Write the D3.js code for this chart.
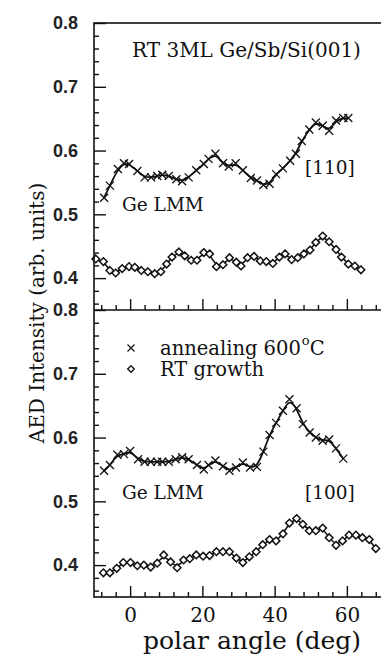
<!DOCTYPE html>
<html>
<head>
<meta charset="utf-8">
<script src="https://cdn.jsdelivr.net/npm/d3@7"></script>
<style>
  body { margin: 0; background: #fff; }
  svg { display: block; }
</style>
</head>
<body>
<div id="chart"></div>
<script>
// [110] panel, annealing 600C (crosses)
var ang110x = [-7.2, -5.6, -3.4, -1.7, -0.3, 2, 4, 5.8, 7.5, 8.9, 10.7, 12.8, 14.4, 16.2, 18.3, 20.4, 21.7, 23.6, 25.7, 27.3, 29.2, 31.2, 33.4, 35.1, 36.9, 38.6, 40.4, 42.3, 44.3, 45.9, 47.5, 49.6, 51.4, 53.3, 55.1, 57, 59, 60.4];
var int110x = [0.526, 0.545, 0.571, 0.580, 0.579, 0.568, 0.558, 0.558, 0.560, 0.562, 0.560, 0.555, 0.552, 0.558, 0.569, 0.579, 0.587, 0.595, 0.580, 0.575, 0.580, 0.569, 0.557, 0.553, 0.546, 0.548, 0.563, 0.572, 0.584, 0.595, 0.615, 0.633, 0.644, 0.639, 0.631, 0.647, 0.651, 0.651];
// [110] panel, RT growth (diamonds)
var ang110d = [-9.5, -7.4, -5.6, -4, -2.2, -0.3, 1.3, 3.1, 4.9, 6.8, 8.5, 10.1, 11.6, 13.5, 15.1, 16.9, 18.5, 20.4, 22, 23.9, 25.7, 27.5, 29.4, 30.7, 32.5, 34.3, 36, 37.7, 39.5, 41.3, 42.9, 44.7, 46.4, 48.1, 49.8, 51.4, 53.3, 55.1, 57, 58.5, 60.4, 62.2, 63.9];
var int110d = [0.430, 0.426, 0.412, 0.408, 0.415, 0.418, 0.417, 0.412, 0.410, 0.407, 0.410, 0.422, 0.433, 0.441, 0.435, 0.428, 0.428, 0.440, 0.438, 0.418, 0.421, 0.432, 0.425, 0.419, 0.432, 0.434, 0.427, 0.426, 0.423, 0.433, 0.438, 0.429, 0.432, 0.438, 0.444, 0.456, 0.466, 0.457, 0.445, 0.433, 0.422, 0.419, 0.413];
// [100] panel, annealing 600C (crosses)
var ang100x = [-7.2, -5.6, -3.5, -1.7, 0, 2.2, 4, 5.7, 7.5, 8.9, 10.7, 12.6, 14.4, 16.2, 18.5, 20.4, 21.7, 23.6, 25.7, 27.5, 29.3, 31.2, 33.2, 35.1, 36.9, 38.6, 40.4, 42.3, 44.1, 46.1, 47.8, 49.7, 51.4, 53.3, 55.1, 57, 59];
var int100x = [0.548, 0.557, 0.573, 0.574, 0.579, 0.566, 0.562, 0.562, 0.562, 0.562, 0.562, 0.566, 0.569, 0.566, 0.557, 0.550, 0.557, 0.564, 0.555, 0.548, 0.553, 0.561, 0.553, 0.554, 0.578, 0.604, 0.623, 0.642, 0.660, 0.646, 0.621, 0.608, 0.600, 0.595, 0.597, 0.583, 0.567];
// [100] panel, RT growth (diamonds)
var ang100d = [-7.4, -5.6, -3.7, -1.9, 0.1, 2, 3.8, 5.7, 7.5, 9.3, 11.2, 13, 14.8, 16.5, 18.3, 20.2, 22, 23.9, 25.7, 27.5, 29.4, 31.2, 33, 34.9, 36.7, 38.6, 40.4, 42.3, 44.1, 46.1, 47.8, 49.6, 51.4, 53.3, 55.1, 57, 58.8, 60.6, 62.5, 64.3, 66.2, 68];
var int100d = [0.388, 0.388, 0.395, 0.404, 0.404, 0.399, 0.400, 0.397, 0.403, 0.416, 0.405, 0.396, 0.408, 0.410, 0.416, 0.414, 0.415, 0.421, 0.421, 0.421, 0.411, 0.404, 0.413, 0.421, 0.432, 0.440, 0.438, 0.449, 0.466, 0.473, 0.464, 0.454, 0.454, 0.458, 0.443, 0.431, 0.438, 0.447, 0.447, 0.443, 0.440, 0.426];

var xMajor = [0, 20, 40, 60];
var xMinor = [-8, -4, 4, 8, 12, 16, 24, 28, 32, 36, 44, 48, 52, 56, 64, 68];
var yMajor = [0.4, 0.5, 0.6, 0.7, 0.8];
var yMinor = [0.36, 0.38, 0.42, 0.44, 0.46, 0.48, 0.52, 0.54, 0.56, 0.58, 0.62, 0.64, 0.66, 0.68, 0.72, 0.74, 0.76, 0.78];

var W = 381, H = 659;
var serif = "'DejaVu Serif', serif";
var sans = "'Liberation Sans', Arial, sans-serif";

var svg = d3.select("#chart").append("svg").attr("width", W).attr("height", H);

var x = d3.scaleLinear().domain([-10, 70]).range([94, 383]);
var yTop = d3.scaleLinear().domain([0.35, 0.8]).range([310, 23]);
var yBot = d3.scaleLinear().domain([0.35, 0.8]).range([597, 310]);

function zip(a, b) { return a.map(function (v, i) { return [v, b[i]]; }); }

function panel(y, xs, ys, ds, dv, showX) {
  var g = svg.append("g");
  // y axis ticks
  g.append("g").attr("transform", "translate(" + x(-10) + ",0)")
    .call(d3.axisLeft(y).tickValues(yMinor).tickSize(-5).tickSizeOuter(0).tickFormat(""));
  g.append("g").attr("transform", "translate(" + x(-10) + ",0)")
    .call(d3.axisLeft(y).tickValues(yMajor).tickSize(-12).tickSizeOuter(0).tickPadding(16)
      .tickFormat(d3.format(".1f")))
    .call(function (a) {
      a.selectAll("text").style("font-family", sans).style("font-size", "18px")
        .style("font-weight", "bold").attr("fill", "#222");
    });
  // x axis ticks (pointing up)
  var yb = y(0.35);
  g.append("g").attr("transform", "translate(0," + yb + ")")
    .call(d3.axisBottom(x).tickValues(xMinor).tickSize(-5).tickSizeOuter(0).tickFormat(""));
  g.append("g").attr("transform", "translate(0," + yb + ")")
    .call(d3.axisBottom(x).tickValues(xMajor).tickSize(-11).tickSizeOuter(0).tickPadding(11)
      .tickFormat(showX ? d3.format("d") : ""))
    .call(function (a) {
      a.selectAll("text").style("font-family", serif).style("font-size", "20px").attr("fill", "#111");
    });
  g.selectAll(".domain").remove();
  g.selectAll("line").attr("stroke", "#111").attr("stroke-width", 1.4);

  var line = d3.line().x(function (d) { return x(d[0]); }).y(function (d) { return y(d[1]); })
    .curve(d3.curveBasis);
  var cross = zip(xs, ys), diam = zip(ds, dv);
  g.append("path").attr("d", line(cross)).attr("fill", "none").attr("stroke", "#111").attr("stroke-width", 1.8);
  g.append("path").attr("d", line(diam)).attr("fill", "none").attr("stroke", "#111").attr("stroke-width", 1.6);

  g.selectAll(".cx").data(cross).join("path").attr("class", "cx")
    .attr("transform", function (d) { return "translate(" + x(d[0]) + "," + y(d[1]) + ")"; })
    .attr("d", "M-4,-4L4,4M-4,4L4,-4").attr("stroke", "#111").attr("stroke-width", 1.3).attr("fill", "none");
  g.selectAll(".dm").data(diam).join("path").attr("class", "dm")
    .attr("transform", function (d) { return "translate(" + x(d[0]) + "," + y(d[1]) + ")"; })
    .attr("d", "M0,-3.8L3.8,0L0,3.8L-3.8,0Z").attr("stroke", "#111").attr("stroke-width", 1.5).attr("fill", "#fff");
}

panel(yTop, ang110x, int110x, ang110d, int110d, false);
panel(yBot, ang100x, int100x, ang100d, int100d, true);

// frame
var fr = svg.append("g").attr("stroke", "#111").attr("stroke-width", 1.6).attr("fill", "none");
fr.append("rect").attr("x", x(-10)).attr("y", yTop(0.8)).attr("width", x(70) - x(-10)).attr("height", yBot(0.35) - yTop(0.8));
fr.append("line").attr("x1", x(-10)).attr("x2", x(70)).attr("y1", yTop(0.35)).attr("y2", yTop(0.35));

function txt(xp, yp, s, size, anchor) {
  return svg.append("text").attr("x", xp).attr("y", yp).text(s)
    .style("font-family", serif).style("font-size", size + "px").attr("fill", "#111")
    .attr("text-anchor", anchor || "start");
}

txt(132, 57, "RT 3ML Ge/Sb/Si(001)", 20);
txt(305, 174, "[110]", 18.5);
txt(122, 211, "Ge LMM", 18.5);
txt(122, 499, "Ge LMM", 18.5);
txt(305, 499, "[100]", 18.5);

// legend
svg.append("path").attr("transform", "translate(131,348)").attr("d", "M-3.5,-3.5L3.5,3.5M-3.5,3.5L3.5,-3.5")
  .attr("stroke", "#111").attr("stroke-width", 1.2);
svg.append("path").attr("transform", "translate(131,369)").attr("d", "M0,-3.3L3.3,0L0,3.3L-3.3,0Z")
  .attr("stroke", "#111").attr("stroke-width", 1.3).attr("fill", "#fff");
var lg = txt(160, 355, "annealing 600", 19.5);
lg.append("tspan").attr("dy", -10).attr("dx", 1).style("font-size", "13px").text("o");
lg.append("tspan").attr("dy", 10).text("C");
txt(160, 376, "RT growth", 19.5);

// axis titles
txt(252, 649, "polar angle (deg)", 25, "middle");
svg.append("text").attr("transform", "translate(44,313) rotate(-90)").attr("text-anchor", "middle")
  .style("font-family", serif).style("font-size", "20px").attr("fill", "#111")
  .text("AED Intensity (arb. units)");
</script>
</body>
</html>
